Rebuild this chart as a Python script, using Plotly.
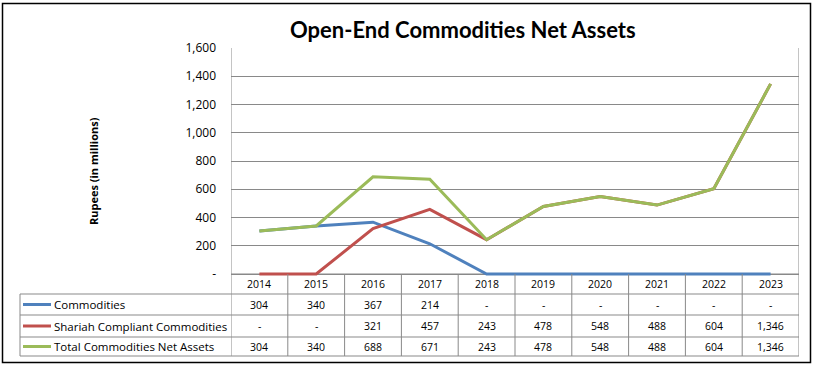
import plotly.graph_objects as go

years = ["2014", "2015", "2016", "2017", "2018", "2019", "2020", "2021", "2022", "2023"]
commodities = [304, 340, 367, 214, 0, 0, 0, 0, 0, 0]
shariah = [0, 0, 321, 457, 243, 478, 548, 488, 604, 1346]
total = [304, 340, 688, 671, 243, 478, 548, 488, 604, 1346]
series_names = ["Commodities", "Shariah Compliant Commodities", "Total Commodities Net Assets"]
series_values = [commodities, shariah, total]
series_colors = ["#4F81BD", "#C0504D", "#9BBB59"]
y_ticks = [0, 200, 400, 600, 800, 1000, 1200, 1400, 1600]

W, H = 814, 366
L, R, T, B = 231, 799, 48, 274  # plot area pixel box (0 line at B)
ymin = -14.16
BOT = 276  # pixel bottom of plot domain
grid = "#898989"

def px(xp):
    return (xp - L) / (R - L)

def py(yp):
    return (BOT - yp) / (BOT - T)

def fmt(v):
    return "-" if v == 0 else f"{v:,}"

fig = go.Figure()
xs = list(range(len(years)))
for name, vals, col in zip(series_names, series_values, series_colors):
    fig.add_trace(go.Scatter(x=xs, y=vals, mode="lines", name=name,
                             line=dict(color=col, width=3), showlegend=False,
                             hoverinfo="skip"))

fig.update_layout(
    width=W, height=H,
    margin=dict(l=L, r=W - R, t=T, b=H - BOT, pad=0),
    paper_bgcolor="white", plot_bgcolor="white",
    font=dict(family="Open Sans", color="black"),
    xaxis=dict(range=[-0.5, len(years) - 0.5], showticklabels=False, showgrid=False,
               zeroline=False, showline=False, ticks=""),
    yaxis=dict(range=[ymin, 1600], tickvals=y_ticks,
               ticktext=[fmt(v) for v in y_ticks],
               showgrid=True, gridcolor=grid, gridwidth=1, zeroline=False,
               showline=False, ticks="", ticklabelstandoff=14,
               tickfont=dict(family="Open Sans", size=12, color="black")),
)

shapes = []
annots = []
# x-axis line at 0
shapes.append(dict(type="line", xref="paper", yref="y", x0=0, x1=1, y0=0, y1=0,
                   line=dict(color=grid, width=1), layer="below"))
# table geometry
row_lines = [294, 315, 337, 356]
tbl_left = 20
for yl in row_lines:
    shapes.append(dict(type="line", xref="paper", yref="paper", x0=px(tbl_left), x1=1,
                       y0=py(yl), y1=py(yl), line=dict(color=grid, width=1)))
shapes.append(dict(type="line", xref="paper", yref="paper", x0=px(tbl_left), x1=px(tbl_left),
                   y0=py(294), y1=py(356), line=dict(color=grid, width=1)))
for i in range(len(years) + 1):
    top = py(T) if i in (0, len(years)) else py(B)
    shapes.append(dict(type="line", xref="x", yref="paper", x0=i - 0.5, x1=i - 0.5,
                       y0=top, y1=py(356), line=dict(color=grid, width=1)))

# header years
for i, yr in enumerate(years):
    annots.append(dict(x=i, xref="x", y=py(284), yref="paper", text=yr, showarrow=False,
                       font=dict(size=10.5, family="Open Sans", color="black"),
                       xanchor="center", yanchor="middle"))
row_centers = [304.5, 326, 346.5]
for (name, vals, col), rc in zip(zip(series_names, series_values, series_colors), row_centers):
    shapes.append(dict(type="line", xref="paper", yref="paper", x0=px(23), x1=px(51),
                       y0=py(rc), y1=py(rc), line=dict(color=col, width=3)))
    annots.append(dict(x=px(52), xref="paper", y=py(rc), yref="paper", text=name,
                       showarrow=False, font=dict(size=11.5, family="Open Sans", color="black"),
                       xanchor="left", yanchor="middle"))
    for i, v in enumerate(vals):
        annots.append(dict(x=i, xref="x", y=py(rc), yref="paper", text=fmt(v), showarrow=False,
                           font=dict(size=10.5, family="Open Sans", color="black"),
                           xanchor="center", yanchor="middle"))

# title
annots.append(dict(x=px(463), xref="paper", y=py(29), yref="paper",
                   text="<b>Open-End Commodities Net Assets</b>", showarrow=False,
                   font=dict(size=22, family="Lato", color="black"),
                   xanchor="center", yanchor="middle"))
# y axis title
annots.append(dict(x=px(93), xref="paper", y=py(171), yref="paper",
                   text="<b>Rupees (in millions)</b>", showarrow=False, textangle=-90,
                   font=dict(size=11, family="Open Sans", color="black"),
                   xanchor="center", yanchor="middle"))
# outer chart border
shapes.append(dict(type="rect", xref="paper", yref="paper", x0=px(2.5), x1=px(810.5),
                   y0=py(362.5), y1=py(3.5), line=dict(color="black", width=1.5)))

fig.update_layout(shapes=shapes, annotations=annots)
fig.write_html("out.html", config={"displayModeBar": False},
               post_script="document.body.style.margin='0';")
